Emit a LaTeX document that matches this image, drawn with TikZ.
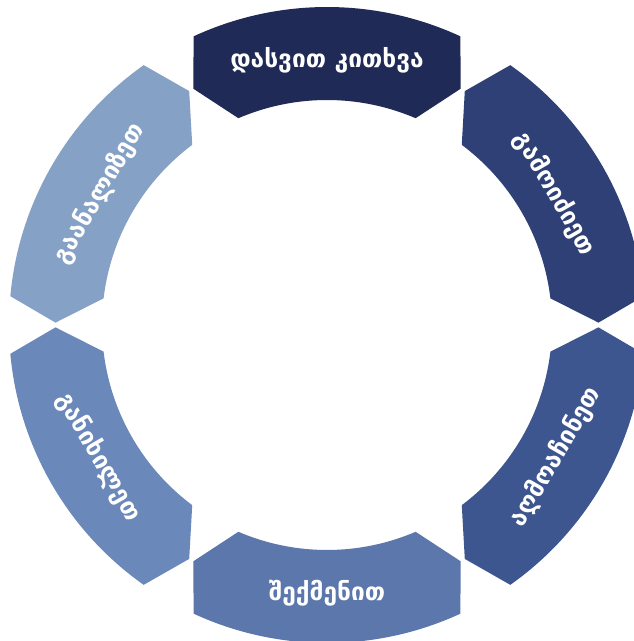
\documentclass[tikz,border=0pt]{standalone}
\usepackage{fontspec}
\setmainfont{DejaVu Sans}
\definecolor{cA}{HTML}{1F2A56}
\definecolor{cB}{HTML}{2E4075}
\definecolor{cC}{HTML}{3E5690}
\definecolor{cD}{HTML}{5B77AB}
\definecolor{cE}{HTML}{6A88B9}
\definecolor{cF}{HTML}{86A1C6}
\newcommand{\segpath}[1]{%
  (#1+24.8:318pt) arc[start angle=#1+24.8, end angle=#1-24.8, radius=318pt]
  -- (#1-29.5:271.5pt) -- (#1-23.2:225pt)
  arc[start angle=#1-23.2, end angle=#1+23.2, radius=225pt]
  -- (#1+29.5:271.5pt) -- cycle}
\tikzset{
  seglabel/.style={text=white, font=\bfseries\fontsize{24.5}{28}\selectfont, inner sep=0pt, anchor=center}
}
\begin{document}
\begin{tikzpicture}[x=1pt,y=1pt]
\useasboundingbox (0,0) rectangle (633,641);
\begin{scope}[shift={(327,316)}]
  \fill[cA] \segpath{90};
  \fill[cB] \segpath{30};
  \fill[cC] \segpath{-30};
  \fill[cD] \segpath{-90};
  \fill[cE] \segpath{-150};
  \fill[cF] \segpath{150};
  \node[seglabel] (t1) at (90:265pt) {დასვით კითხვა};
  \node[seglabel, rotate=-60] (t2) at (30:263pt) {გამოიძიეთ};
  \node[seglabel, rotate=60] (t3) at (-30:264pt) {აღმოაჩინეთ};
  \node[seglabel] (t4) at (-90:268pt) {შექმენით};
  \node[seglabel, rotate=-60] (t5) at (-150:264pt) {განიხილეთ};
  \node[seglabel, rotate=60] (t6) at (150:263pt) {გაანალიზეთ};
\end{scope}
\end{tikzpicture}
\end{document}
